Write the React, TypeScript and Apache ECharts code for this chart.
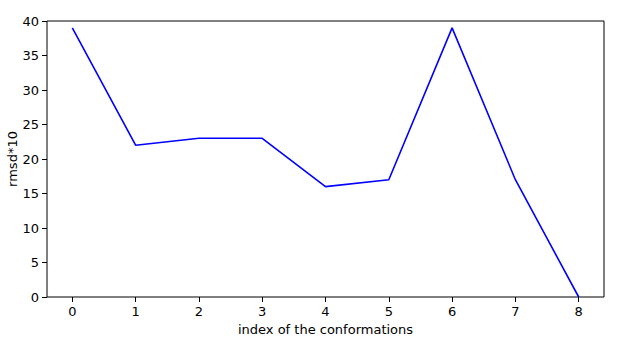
import React, { useEffect, useRef } from "react";
import * as echarts from "echarts";

const xValues = [0, 1, 2, 3, 4, 5, 6, 7, 8];
const rmsdValues = [39, 22, 23, 23, 16, 17, 39, 17, 0];
const xTicks = [0, 1, 2, 3, 4, 5, 6, 7, 8];

export default function App() {
  const ref = useRef<HTMLDivElement>(null);
  useEffect(() => {
    if (!ref.current) return;
    const chart = echarts.init(ref.current, null, { renderer: "svg" });
    const font = "DejaVu Sans";
    chart.setOption({
      animation: false,
      backgroundColor: "#ffffff",
      grid: {
        left: 47,
        right: 16,
        top: 21,
        bottom: 47,
        containLabel: false,
        outerBoundsMode: "none",
        show: true,
        borderColor: "#000000",
        borderWidth: 1,
        backgroundColor: "transparent",
      },
      xAxis: {
        type: "value",
        min: -0.4,
        max: 8.4,
        name: "index of the conformations",
        nameLocation: "middle",
        nameGap: 26,
        nameMoveOverlap: false,
        nameTextStyle: { fontFamily: font, fontSize: 13, color: "#000" },
        axisLine: { show: false, onZero: false },
        splitLine: { show: false },
        axisTick: {
          show: true,
          length: 5,
          lineStyle: { color: "#000" },
          customValues: xTicks,
        },
        axisLabel: {
          show: true,
          margin: 8,
          fontFamily: font,
          fontSize: 13,
          color: "#000",
          customValues: xTicks,
        },
      },
      yAxis: {
        type: "value",
        min: 0,
        max: 40,
        interval: 5,
        name: "rmsd*10",
        nameLocation: "middle",
        nameGap: 28,
        nameMoveOverlap: false,
        nameTextStyle: { fontFamily: font, fontSize: 13, color: "#000" },
        axisLine: { show: false, onZero: false },
        splitLine: { show: false },
        axisTick: { show: true, length: 5, lineStyle: { color: "#000" } },
        axisLabel: {
          margin: 8,
          fontFamily: font,
          fontSize: 13,
          color: "#000",
        },
      },
      series: [
        {
          type: "line",
          data: xValues.map((x, i) => [x, rmsdValues[i]]),
          showSymbol: false,
          symbol: "none",
          lineStyle: { color: "#0000ff", width: 1.6 },
          itemStyle: { color: "#0000ff" },
        },
      ],
    });
    return () => chart.dispose();
  }, []);
  return (
    <div
      ref={ref}
      style={{ position: "fixed", left: 0, top: 0, width: 620, height: 344 }}
    />
  );
}
